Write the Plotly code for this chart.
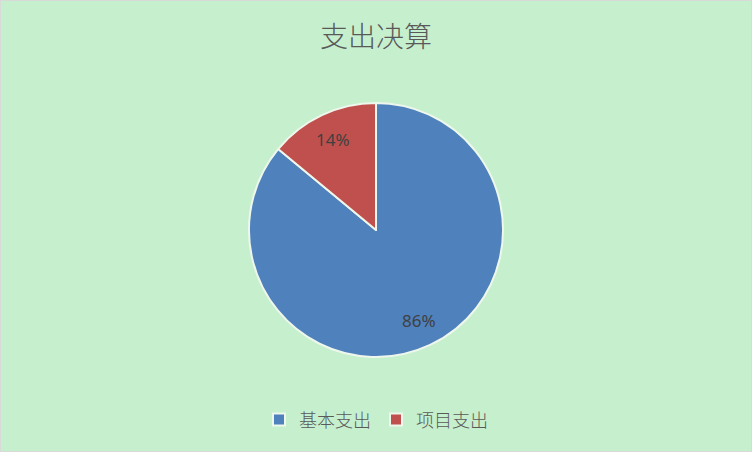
import math
import plotly.graph_objects as go

labels = ["基本支出", "项目支出"]
values = [86, 14]
colors = ["#4F81BD", "#C0504D"]

# pie geometry in paper coords (window is 752x452)
W, H = 752, 452
cx, cy, rad = 376, 230, 127

fig = go.Figure()
fig.add_trace(go.Pie(
    labels=labels,
    values=values,
    sort=False,
    direction="clockwise",
    rotation=0,
    marker=dict(colors=colors, line=dict(color="#EEF7EC", width=2)),
    textinfo="none",
    domain=dict(x=[(cx - rad) / W, (cx + rad) / W],
                y=[1 - (cy + rad) / H, 1 - (cy - rad) / H]),
    hoverinfo="label+percent",
))

# data labels at ~79% of the radius, like Excel's best-fit placement
total = sum(values)
start = 0
for v in values:
    mid = (start + v / 2) / total * 2 * math.pi
    start += v
    px = cx + 0.79 * rad * math.sin(mid)
    py = cy - 0.79 * rad * math.cos(mid)
    fig.add_annotation(
        x=px / W, y=1 - py / H, xref="paper", yref="paper",
        xanchor="center", yanchor="middle",
        text=f"{v / total:.0%}", showarrow=False,
        font=dict(family="Noto Sans", size=17, color="#404040"),
    )

fig.update_layout(
    width=W,
    height=H,
    paper_bgcolor="#C6EFCE",
    plot_bgcolor="#C6EFCE",
    margin=dict(l=0, r=0, t=0, b=0),
    title=dict(
        text="支出决算",
        x=0.5, xanchor="center",
        y=0.918, yanchor="middle",
        font=dict(family="Noto Sans CJK SC", size=28, color="#595959", weight=300),
    ),
    legend=dict(
        orientation="h",
        x=0.5, xanchor="center",
        y=0.071, yanchor="middle",
        font=dict(family="Noto Sans CJK SC", size=18, color="#595959", weight=300),
        itemwidth=30,
    ),
    shapes=[dict(
        type="rect", xref="paper", yref="paper",
        x0=0, y0=0, x1=1, y1=1,
        line=dict(color="#D9D9D9", width=2),
    )],
    font=dict(family="Noto Sans CJK SC"),
)

fig.write_html("out.html", config={"displayModeBar": False},
               post_script="document.body.style.margin='0';")
